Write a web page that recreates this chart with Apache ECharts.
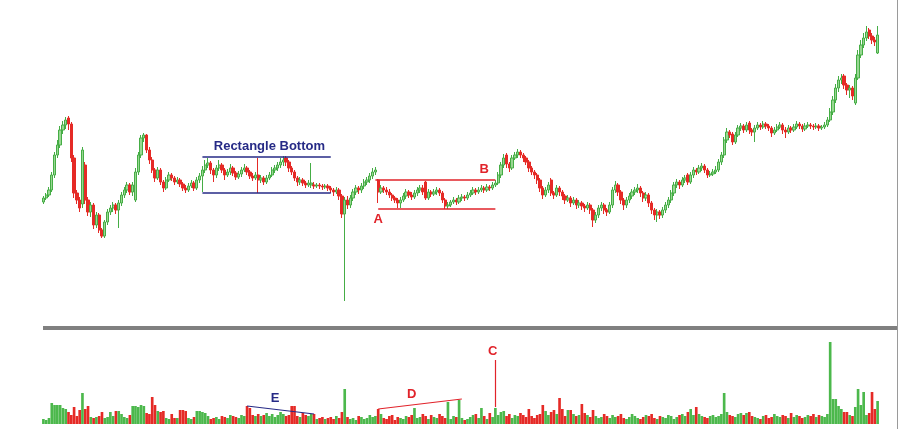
<!DOCTYPE html>
<html>
<head>
<meta charset="utf-8">
<script src="https://cdn.jsdelivr.net/npm/echarts@6/dist/echarts.min.js"></script>
<style>html,body{margin:0;padding:0;background:#fff;}#c{width:899px;height:429px;}</style>
</head>
<body>
<div id="c"></div>
<script>
// candles: [open, close, low, high] (price index units)
const candles = [
[128,132,126,134],[132,135,130,137],[135,140,133,143],[140,155,138,158],[155,175,152,178],[175,185,172,190],[185,200,182,204],[200,205,196,209],[205,210,201,213],[212,206,200,214],
[206,172,168,208],[172,137,132,175],[137,130,126,140],[130,122,118,133],[126,180,122,183],[165,130,126,168],[130,118,114,133],[118,125,113,128],[125,105,101,127],[105,115,102,118],
[115,100,97,117],[100,94,92,102],[94,108,92,110],[108,118,105,121],[118,122,115,125],[122,125,118,128],[125,120,116,127],[120,127,102,130],[127,135,124,138],[135,140,132,143],
[140,145,137,148],[145,138,135,147],[138,145,134,148],[130,158,128,162],[158,175,155,178],[175,192,172,195],[192,195,188,197],[195,180,177,196],[180,170,166,183],[170,160,157,173],
[160,152,148,162],[152,160,150,163],[160,148,145,162],[148,142,138,150],[142,150,140,153],[150,155,148,158],[155,152,149,157],[152,148,145,154],[148,150,146,153],[150,146,143,152],
[146,142,139,148],[142,140,137,145],[140,144,138,147],[144,147,142,150],[147,142,139,149],[142,150,140,153],[150,154,147,157],[154,160,138,164],[160,165,157,170],[165,167,162,172],
[167,160,156,169],[160,155,148,162],[155,162,152,165],[162,165,159,170],[165,160,157,167],[160,155,150,162],[155,158,153,161],[158,162,155,166],[162,157,154,164],[157,153,150,159],
[153,156,151,159],[156,160,153,163],[160,162,158,166],[162,158,155,164],[158,154,151,160],[154,152,149,157],[152,155,150,158],[155,150,137,172],[150,152,147,155],[152,148,145,154],
[148,152,146,155],[152,155,150,158],[155,160,153,163],[160,162,157,165],[162,165,159,168],[165,168,162,172],[168,170,164,174],[172,168,164,174],[168,162,158,170],[162,158,155,164],
[158,152,149,160],[152,148,144,154],[148,150,145,153],[150,147,144,152],[147,145,142,149],[145,147,143,150],[145,147,142,167],[145,144,141,148],[144,145,142,147],[145,144,141,147],
[144,143,140,146],[143,144,141,146],[144,142,139,146],[142,140,137,144],[140,138,134,142],[138,140,136,143],[140,134,130,142],[134,116,112,136],[116,130,29,133],[130,125,121,134],
[125,132,122,135],[132,138,129,141],[138,142,135,145],[142,140,136,144],[140,144,137,147],[144,148,141,151],[148,150,145,153],[150,154,147,157],[154,158,151,162],[158,160,155,163],
[150,138,127,151],[138,142,136,145],[142,140,137,144],[140,138,135,143],[138,135,132,141],[135,132,129,137],[132,130,127,134],[130,127,122,132],[127,130,122,133],[130,134,128,137],
[134,138,131,141],[138,135,132,140],[135,133,130,138],[133,137,131,140],[137,140,134,143],[140,142,137,145],[142,138,135,145],[148,132,130,149],[132,138,130,141],[138,136,133,140],
[136,138,134,141],[138,140,135,143],[140,137,134,142],[137,130,127,139],[130,124,121,132],[124,125,121,128],[125,128,123,130],[128,130,126,133],[130,128,125,132],[128,132,126,135],
[132,133,129,136],[133,132,129,135],[132,135,130,138],[135,137,133,140],[137,140,135,143],[140,138,135,142],[138,140,136,143],[140,142,138,145],[142,140,137,144],[140,143,138,146],
[143,142,139,145],[142,145,140,148],[145,147,143,150],[147,155,145,158],[155,165,152,168],[165,172,162,176],[175,166,162,177],[166,162,158,168],[162,172,160,175],[172,175,170,178],
[175,178,172,181],[178,175,172,180],[175,172,168,177],[172,168,165,174],[168,162,158,170],[162,158,155,164],[158,155,151,160],[155,150,146,157],[150,142,138,152],[142,135,131,144],
[135,140,133,143],[140,145,137,148],[150,137,134,152],[137,135,131,139],[135,142,133,145],[142,138,134,144],[138,134,130,140],[134,130,126,136],[130,132,128,135],[132,127,123,134],
[127,130,125,133],[130,125,121,132],[125,127,122,130],[127,124,120,129],[124,122,118,126],[122,125,120,128],[125,120,116,127],[120,110,103,122],[110,115,107,118],[115,122,112,125],
[122,125,119,128],[125,120,116,127],[120,118,114,122],[118,125,116,128],[125,140,122,143],[140,145,137,149],[145,138,134,147],[138,130,126,140],[130,125,120,132],[125,130,122,133],
[130,134,127,137],[134,138,131,141],[138,140,135,143],[140,142,137,146],[142,137,133,144],[137,132,128,139],[132,135,129,138],[135,127,123,137],[127,120,116,129],[120,115,110,122],
[115,118,108,121],[118,115,111,120],[115,120,112,123],[120,125,117,128],[125,130,122,133],[130,137,127,140],[137,145,134,148],[145,148,142,151],[148,145,141,150],[145,150,143,153],
[150,152,147,155],[155,148,145,157],[148,155,146,158],[155,160,152,163],[160,158,155,162],[158,162,156,165],[162,164,159,167],[164,160,157,166],[160,155,152,162],[155,156,153,159],
[156,158,154,161],[158,160,156,164],[160,168,158,171],[168,175,165,178],[175,190,172,193],[190,198,187,202],[198,195,192,200],[196,188,185,198],[188,195,186,198],[195,202,193,205],
[202,204,199,207],[204,200,197,206],[200,205,198,208],[207,200,196,209],[200,198,194,202],[198,202,188,205],[202,205,200,208],[205,203,200,207],[203,206,201,209],[206,204,201,208],
[204,202,199,206],[202,197,193,204],[197,200,195,203],[200,203,198,206],[203,205,201,208],[205,200,196,207],[200,198,192,203],[198,202,196,205],[202,200,197,204],[200,203,198,206],
[203,206,201,209],[206,204,201,208],[204,201,198,206],[201,204,199,207],[204,205,202,208],[205,204,201,207],[204,203,200,206],[203,204,201,207],[204,202,199,206],[202,203,200,205],
[203,205,201,208],[205,210,203,213],[210,218,208,222],[218,230,215,234],[230,242,227,246],[242,250,238,254],[250,252,246,256],[254,245,241,256],[245,240,235,247],[240,242,232,245],
[242,234,230,244],[227,252,225,256],[252,275,250,280],[275,285,272,290],[285,292,282,297],[292,298,289,304],[300,294,291,302],[294,290,286,297],[290,288,284,293],[277,295,276,304]
];
const volumes = [
5,4,6,21,19,19,19,16,15,12, 9,17,8,14,31,15,18,7,6,7, 8,12,6,7,12,8,13,13,10,7, 6,9,18,18,17,19,18,11,10,27,
19,13,12,13,6,5,10,6,6,14, 14,13,6,5,7,13,13,12,11,8, 5,6,7,5,8,7,6,9,8,7, 6,9,8,18,16,9,8,10,8,9,
11,8,10,7,9,12,10,8,9,18, 18,8,7,11,9,8,10,10,5,6, 7,5,6,7,5,8,6,12,35,7, 5,6,4,8,7,5,6,9,7,8,
15,10,6,5,8,9,4,7,6,5, 8,7,9,16,6,7,10,8,5,9, 7,6,10,8,6,22,5,8,7,24, 6,4,5,7,9,10,6,16,8,5,
11,7,16,9,12,13,8,10,6,9, 8,11,9,7,15,8,6,9,10,19, 13,9,12,14,10,26,15,8,14,14, 10,8,9,20,11,9,7,14,8,6,
7,10,8,6,9,7,8,10,6,5, 7,10,8,6,5,7,9,8,10,6, 5,8,7,6,9,8,5,7,9,10, 8,12,15,9,17,10,8,7,6,8,
9,7,8,10,31,12,9,8,7,10, 11,9,11,12,8,7,6,5,8,9, 6,7,10,8,7,9,8,6,11,7, 9,8,6,7,9,8,10,7,9,8,
7,10,82,25,25,18,15,12,12,9, 8,17,35,19,32,9,11,32,15,23
];
// annotation lines in data coordinates: [[x1,y1],[x2,y2]] (x = candle index)
const rectTop = [[57,173],[103,173]];
const rectBottom = [[57,137],[103,137]];
const boxTop = [[119,150],[162,150]];
const boxBottom = [[120,121],[162,121]];
const volLineC = [[162,64],[162,17]];
const volLineD = [[120,15],[150,25]];
const volLineE = [[73,18],[97,10]];
// labels: [x, y, text, colour key]
const priceLabels = [[81,184,'Rectangle Bottom','navy'],[158,161,'B','red'],[120,111,'A','red']];
const volLabels = [[161,73,'C','red'],[132,30,'D','red'],[83,26,'E','navy']];

const categories = candles.map((d, i) => String(i + 1));
const COLORS = {navy: '#262a86', red: '#e1232a'};
const UP = '#45ad45', DOWN = '#e52a26';

const chart = echarts.init(document.getElementById('c'), null, {renderer: 'canvas'});
const seg = (pts, color) => [{coord: pts[0], lineStyle: {color}}, {coord: pts[1]}];

chart.setOption({
  animation: false,
  backgroundColor: '#fff',
  grid: [
    {left: 42, right: 20, top: 0, height: 330},
    {left: 42, right: 20, top: 339, height: 85}
  ],
  xAxis: [
    {type: 'category', data: categories, gridIndex: 0, show: false, boundaryGap: true},
    {type: 'category', data: categories, gridIndex: 1, show: false, boundaryGap: true}
  ],
  yAxis: [
    {type: 'value', gridIndex: 0, min: 0, max: 330, show: false, splitLine: {show: false}},
    {type: 'value', gridIndex: 1, min: 0, max: 85, show: false, splitLine: {show: false}}
  ],
  series: [
    {
      type: 'candlestick', xAxisIndex: 0, yAxisIndex: 0, data: candles, barWidth: '100%',
      itemStyle: {color: '#98d792', color0: DOWN, borderColor: UP, borderColor0: DOWN, borderWidth: 1},
      markLine: {
        silent: true, symbol: 'none', label: {show: false},
        lineStyle: {width: 1.5, type: 'solid'},
        data: [seg(rectTop, COLORS.navy), seg(rectBottom, COLORS.navy), seg(boxTop, COLORS.red), seg(boxBottom, COLORS.red)]
      }
    },
    {
      type: 'bar', xAxisIndex: 1, yAxisIndex: 1, barWidth: '95%',
      data: volumes.map((v, i) => ({value: v, itemStyle: {color: candles[i][1] >= candles[i][0] ? '#4cb84c' : DOWN}})),
      markLine: {
        silent: true, symbol: 'none', label: {show: false},
        lineStyle: {width: 1.2, type: 'solid'},
        data: [seg(volLineC, COLORS.red), seg(volLineD, COLORS.red), seg(volLineE, COLORS.navy)]
      }
    }
  ]
});

// annotation texts placed from data coordinates through the chart's own scales
const textEl = (gridIndex, d) => {
  const p = chart.convertToPixel({gridIndex}, [d[0], d[1]]);
  return {
    type: 'text', x: p[0], y: p[1], silent: true, z: 10,
    style: {
      text: d[2], fill: COLORS[d[3]], align: 'center', verticalAlign: 'middle',
      font: 'bold 13px "Liberation Sans", Arial, sans-serif'
    }
  };
};
chart.setOption({
  graphic: [
    {type: 'rect', shape: {x: 43, y: 326, width: 854, height: 4}, style: {fill: '#808080'}, silent: true},
    {type: 'line', shape: {x1: 897.5, y1: 0, x2: 897.5, y2: 429}, style: {stroke: '#9a9a9a', lineWidth: 1}, silent: true}
  ].concat(priceLabels.map(d => textEl(0, d)), volLabels.map(d => textEl(1, d)))
});
</script>
</body>
</html>
